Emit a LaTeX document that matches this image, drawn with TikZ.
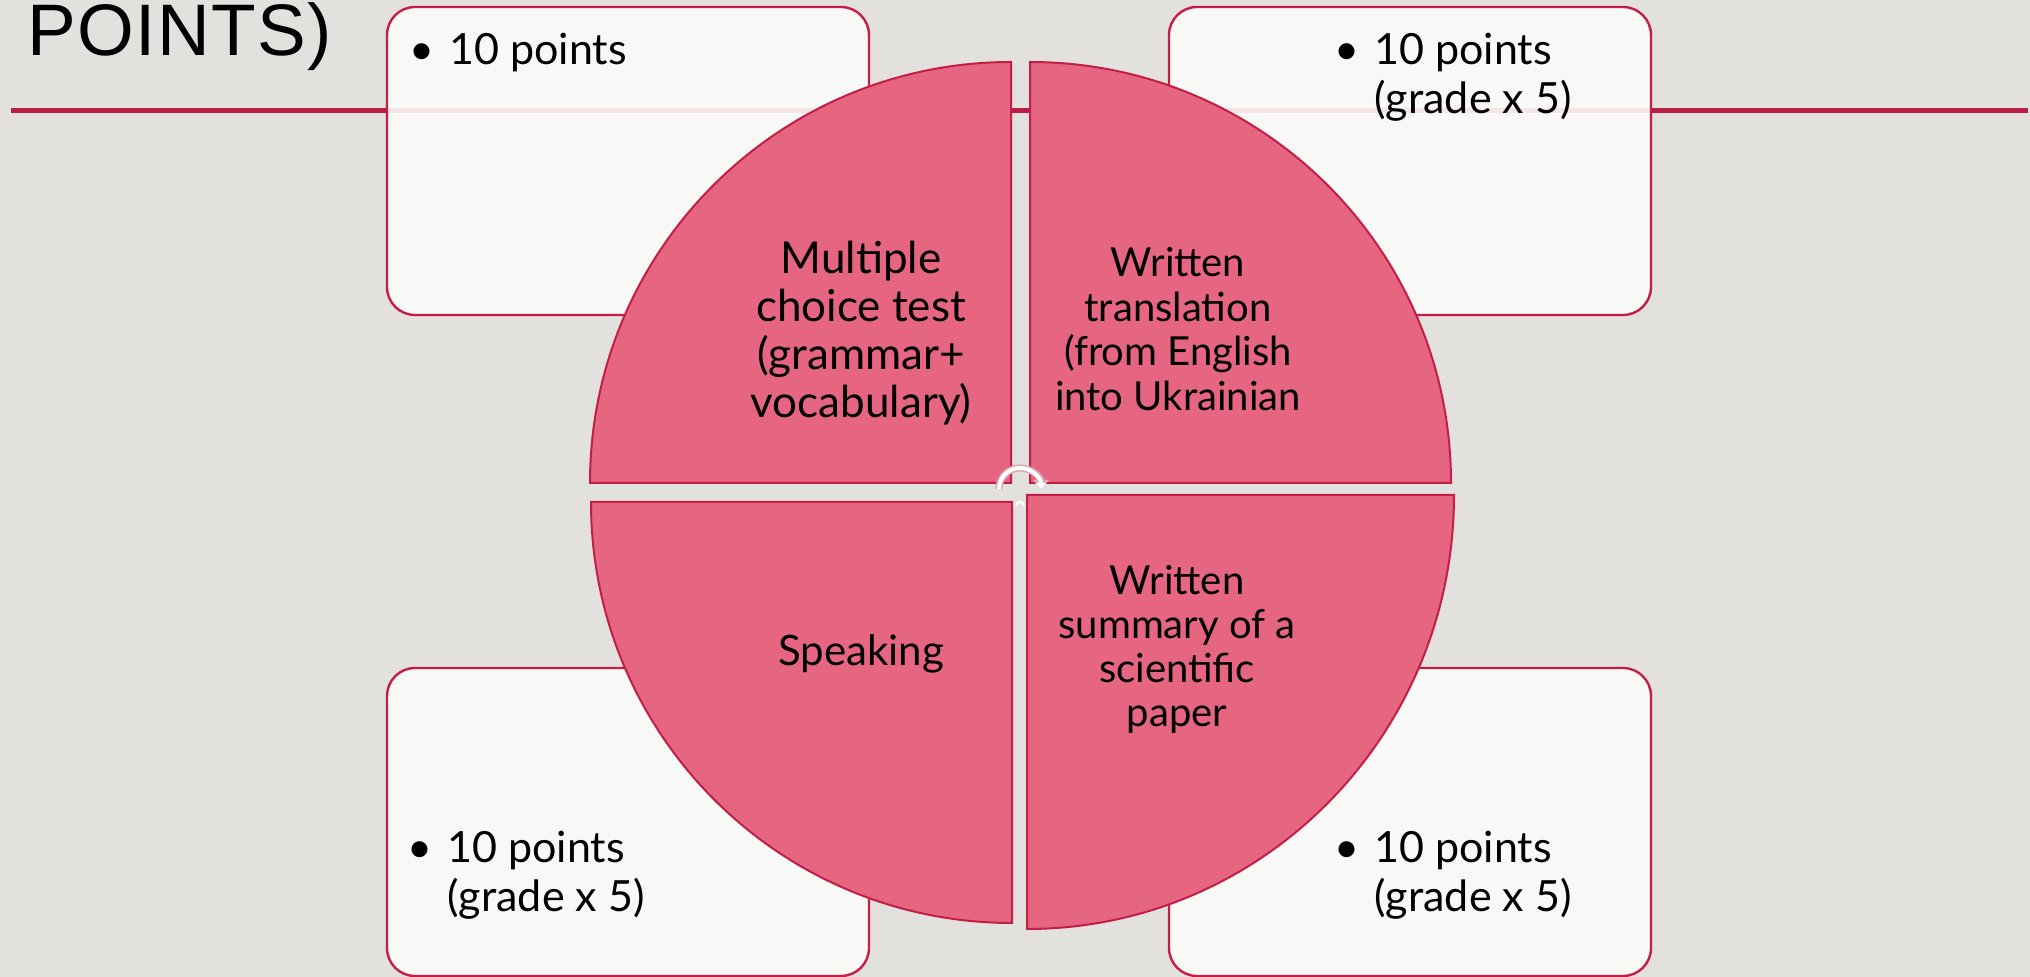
\documentclass[tikz,border=0pt]{standalone}
\usepackage{fontspec}
\setmainfont{Lato}
\newfontfamily\titlefont[LetterSpace=2]{Liberation Sans}
\usetikzlibrary{arrows.meta}

\definecolor{slidebg}{RGB}{227,225,221}
\definecolor{rulered}{RGB}{186,30,66}
\definecolor{segfill}{RGB}{230,102,130}
\definecolor{segedge}{RGB}{196,30,70}
\definecolor{cardfill}{RGB}{251,251,250}
\definecolor{handleedge}{RGB}{214,168,180}

\newcommand\cardbullet{\makebox[20pt][l]{\textbullet}}

\tikzset{
  card/.style={draw=segedge, line width=1.2pt, fill=cardfill, fill opacity=0.9, rounded corners=14pt},
  segment/.style={draw=segedge, line width=1pt, fill=segfill},
  cardtext/.style={anchor=north west, inner sep=0pt, align=left, font=\fontsize{21.5}{24.5}\selectfont},
  segtext/.style={inner sep=0pt, align=center},
}

\begin{document}
\begin{tikzpicture}[x=0.5pt, y=-0.5pt]
\useasboundingbox (0,0) rectangle (2030,977);
\fill[slidebg] (0,0) rectangle (2030,977);

% end of the slide title and the rule under it
\node[anchor=base west, inner sep=0pt, font=\titlefont\fontsize{36.5}{40}\selectfont] (title) at (27,56) {POINTS)};
\draw[rulered, line width=2.5pt] (11,111) -- (2028,111);

% score cards, half hidden by the circle
\foreach \x/\y in {387/7, 1169/7, 387/668, 1169/668} {
  \draw[card] (\x,\y) rectangle ++(482,308);
}

% four quarters of the circle
\draw[segment] (1011,483) -- ++(-421,0) arc[start angle=180, end angle=270, radius=421] -- cycle;
\draw[segment] (1030,483) -- ++(0,-421) arc[start angle=270, end angle=360, radius=421] -- cycle;
\draw[segment] (1012,502) -- ++(0,421) arc[start angle=90, end angle=180, radius=421] -- cycle;
\draw[segment] (1027,495) -- ++(427,0) arc[start angle=0, end angle=90, x radius=427, y radius=434] -- cycle;

\node[segtext, font=\fontsize{22}{24}\selectfont] (mcq) at (861,333) {Multiple\\choice test\\(grammar+\\vocabulary)};
\node[segtext, font=\fontsize{20}{22.25}\selectfont] (transl) at (1178,329) {Written\\translation\\(from English\\into Ukrainian};
\node[segtext, font=\fontsize{21}{24}\selectfont] (speak) at (861,654) {Speaking};
\node[segtext, font=\fontsize{20}{22}\selectfont] (summ) at (1177,649) {Written\\summary of a\\scientific\\paper};

\node[cardtext] (ptsmcq) at (409,33) {\cardbullet 10 points};
\node[cardtext] (ptstransl) at (1334,33) {\cardbullet 10 points\\\hspace*{20pt}(grade x 5)};
\node[cardtext] (ptsspeak) at (407,831) {\cardbullet 10 points\\\hspace*{20pt}(grade x 5)};
\node[cardtext] (ptssumm) at (1334,831) {\cardbullet 10 points\\\hspace*{20pt}(grade x 5)};

% rotate handle in the middle
\draw[handleedge, line width=3.5pt, -{Triangle[length=4.5pt,width=8pt]}] (999,489) arc[start angle=180, end angle=360, radius=21];
\draw[white, line width=2pt, -{Triangle[length=3pt,width=5pt]}] (999,489) arc[start angle=180, end angle=360, radius=21];
\draw[white, line width=1pt] (1016,506) arc[start angle=180, end angle=360, radius=4];
\end{tikzpicture}
\end{document}
